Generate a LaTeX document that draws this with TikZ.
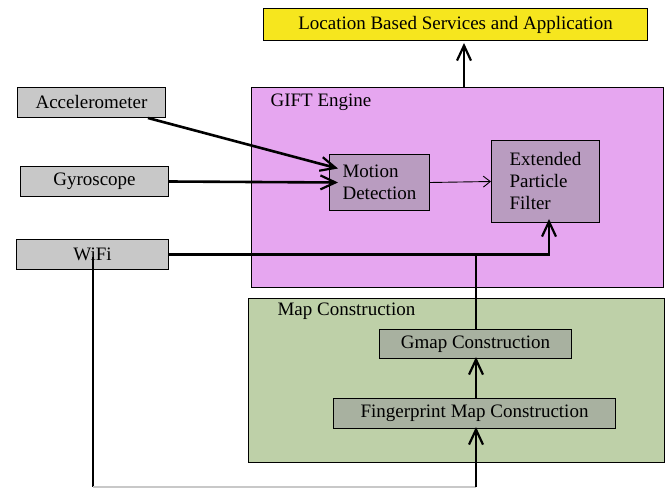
\documentclass[tikz,border=0pt]{standalone}
\usepackage{fontspec}
\setmainfont{Liberation Serif}
\usetikzlibrary{arrows.meta,calc}
\definecolor{lbsyellow}{RGB}{246,230,30}
\definecolor{giftpink}{RGB}{230,166,240}
\definecolor{giftinner}{RGB}{185,156,192}
\definecolor{mapgreen}{RGB}{190,208,168}
\definecolor{mapinner}{RGB}{168,177,160}
\definecolor{sensorgrey}{RGB}{200,200,200}
\definecolor{faintline}{RGB}{200,200,200}
\begin{document}
\begin{tikzpicture}[x=1pt,y=-1pt,
  txt/.style={font=\fontsize{19}{22}\selectfont},
  box/.style={txt,draw,line width=1pt,inner sep=0pt,anchor=north west},
  area/.style={draw,line width=1pt,anchor=north west,inner sep=0pt},
  conn/.style={line width=2.6pt},
  arr/.style={conn,-{Straight Barb[length=15pt,width=14pt,line width=2.2pt]}},
  thinarr/.style={line width=0.9pt,-{Straight Barb[length=7pt,width=11pt,line width=0.9pt]}}]
\useasboundingbox (0,0) rectangle (670,489);

% outer blocks
\node[area,fill=giftpink,minimum width=412pt,minimum height=200pt] (gift) at (251,87) {};
\node[txt,anchor=west] (giftlbl) at (267,102) {GIFT Engine};
\node[area,fill=mapgreen,minimum width=416pt,minimum height=164pt] (map) at (248,298) {};
\node[txt,anchor=west] (maplbl) at (274,311) {Map Construction};

% boxes
\node[box,fill=lbsyellow,minimum width=384pt,minimum height=32pt] (lbs) at (263,8) {Location Based Services and Application};
\node[box,fill=sensorgrey,minimum width=148pt,minimum height=30pt] (acc) at (17,87) {Accelerometer};
\node[box,fill=sensorgrey,minimum width=148pt,minimum height=30pt] (gyro) at (20,166) {Gyroscope};
\node[box,fill=sensorgrey,minimum width=152pt,minimum height=30pt] (wifi) at (16,239) {WiFi};
\node[box,fill=giftinner,minimum width=100pt,minimum height=56pt,align=left] (md) at (329,154) {Motion\\Detection};
\node[box,fill=giftinner,minimum width=108pt,minimum height=82pt,align=left] (epf) at (491,140) {Extended\\Particle\\Filter};
\node[box,fill=mapinner,minimum width=192pt,minimum height=29pt] (gmap) at (379,329) {Gmap Construction};
\node[box,fill=mapinner,minimum width=282pt,minimum height=30pt] (fp) at (333,398) {Fingerprint Map Construction};

% guide columns for the vertical runs
\coordinate (colout) at (464,0);
\coordinate (colmap) at (476,0);
\coordinate (colepf) at (549,0);
\coordinate (colwifi) at (93,0);
\coordinate (floor) at (0,487);

% connectors
\draw[arr] (gift.north -| colout) -- ($(lbs.south -| colout)+(0,2)$);
\draw[arr] ($(acc.south east)+(-18,0)$) -- ($(md.west)+(9,-14)$);
\draw[arr] (gyro.east) -- ($(md.west)+(9,0)$);
\draw[thinarr] (md.east) -- (epf.west);
\draw[arr] (wifi.east) -- (wifi.east -| colepf) -- ($(epf.south -| colepf)+(0,-4)$);
\draw[conn] (gmap.north -| colmap) -- (wifi.east -| colmap);
\draw[arr] (fp.north -| colmap) -- ($(gmap.south -| colmap)+(0,-2)$);
\draw[conn] ($(wifi.center -| colwifi)+(0,3)$) -- (floor -| colwifi);
\draw[line width=1.5pt,faintline] (floor -| colwifi) -- (floor -| colmap);
\draw[arr] (floor -| colmap) -- ($(fp.south -| colmap)+(0,-2)$);
\end{tikzpicture}
\end{document}
